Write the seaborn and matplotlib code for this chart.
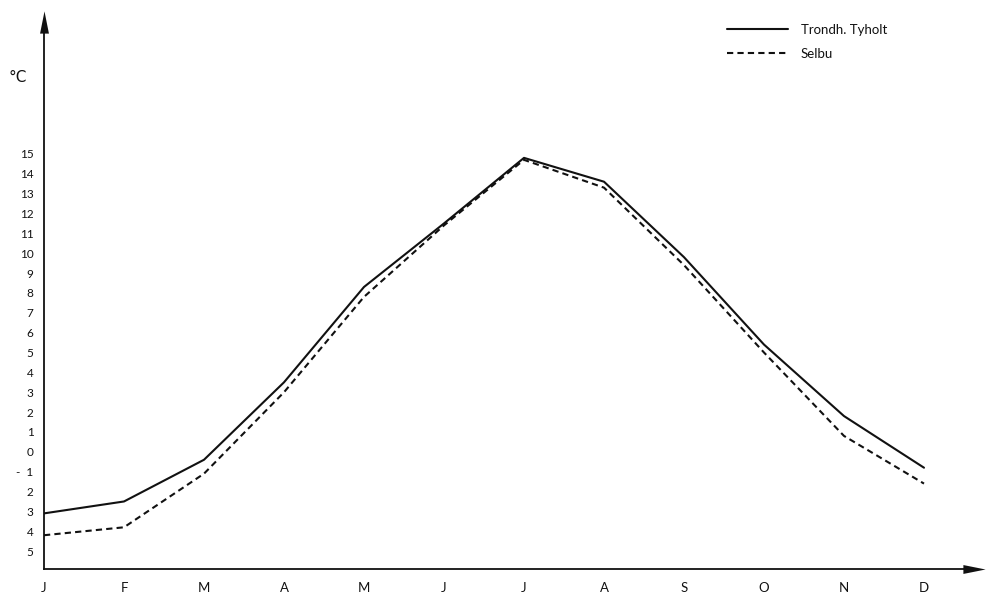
import numpy as np
import pandas as pd
import matplotlib
matplotlib.use("Agg")
import matplotlib.pyplot as plt
from matplotlib.path import Path
import seaborn as sns

months = ["J", "F", "M", "A", "M", "J", "J", "A", "S", "O", "N", "D"]
trondheim = [-3.1, -2.5, -0.4, 3.5, 8.3, 11.5, 14.8, 13.6, 9.8, 5.4, 1.8, -0.8]
selbu = [-4.2, -3.8, -1.1, 3.0, 7.8, 11.4, 14.7, 13.3, 9.4, 5.0, 0.8, -1.6]
series_names = ["Trondh. Tyholt", "Selbu"]
ytick_values = list(range(-5, 16))
ytick_labels = ["5", "4", "3", "2", "-  1", "0"] + [str(v) for v in range(1, 16)]
unit_label = "°C"

sns.set_theme(style="white")
plt.rcParams["font.family"] = ["Lato", "DejaVu Sans"]

df = pd.DataFrame({
    "month": list(range(12)) * 2,
    "temp": trondheim + selbu,
    "station": [series_names[0]] * 12 + [series_names[1]] * 12,
})

fig = plt.figure(figsize=(9.86, 6.0), dpi=100)
ax = fig.add_axes([44 / 986, 31 / 600, (974 - 44) / 986, (569 - 22) / 600])

sns.lineplot(data=df, x="month", y="temp", hue="station", style="station",
             palette=["#111111", "#111111"],
             dashes={series_names[0]: "", series_names[1]: (3, 2)},
             linewidth=1.5, ax=ax, legend=True)

ax.set_xlim(0, (974 - 44) / 80)
ax.set_ylim(-5.9, (452 - 22) / 19.87)
for s in ["top", "right"]:
    ax.spines[s].set_visible(False)
for s in ["left", "bottom"]:
    ax.spines[s].set_color("#111111")
    ax.spines[s].set_linewidth(1.3)

ax.set_xticks(range(12))
ax.set_xticklabels(months, fontsize=9.5)
ax.set_yticks(ytick_values)
ax.set_yticklabels(ytick_labels, fontsize=8.5)
ax.tick_params(axis="both", direction="inout", length=7, width=1.0, color="#111111",
               labelcolor="#111111")
ax.tick_params(axis="x", pad=6)
ax.tick_params(axis="y", pad=4)
ax.set_xlabel("")
ax.set_ylabel("")

# arrowheads (long, narrow)
up = Path([(-0.4, -1.0), (0.0, 1.0), (0.4, -1.0), (-0.4, -1.0)],
          [Path.MOVETO, Path.LINETO, Path.LINETO, Path.CLOSEPOLY])
right = Path([(-1.0, -0.4), (1.0, 0.0), (-1.0, 0.4), (-1.0, -0.4)],
             [Path.MOVETO, Path.LINETO, Path.LINETO, Path.CLOSEPOLY])
ax.plot(1, 0, marker=right, markersize=16, color="#111111", transform=ax.transAxes,
        clip_on=False, markeredgewidth=0)
ax.plot(0, 1, marker=up, markersize=16, color="#111111", transform=ax.transAxes,
        clip_on=False, markeredgewidth=0)

fig.text(8 / 986, 1 - 78 / 600, unit_label, fontsize=11, color="#111111", va="center",
         family=["DejaVu Sans"])

handles, labels = ax.get_legend_handles_labels()
leg = ax.legend(handles, labels, loc="upper left", bbox_to_anchor=(715 / 986, 1 - 12 / 600),
                bbox_transform=fig.transFigure, frameon=False, fontsize=9.5,
                handlelength=4.6, handletextpad=1.0, labelspacing=0.9)
for t in leg.get_texts():
    t.set_color("#111111")

fig.savefig("out.png", dpi=100, facecolor="white")
